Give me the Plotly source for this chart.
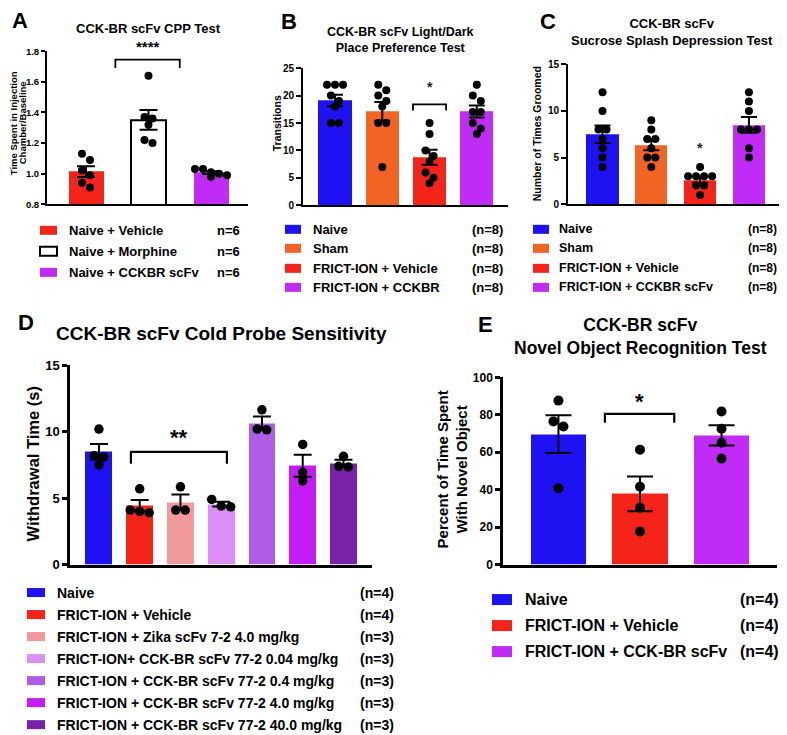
import numpy as np
import plotly.graph_objects as go

# target picture is 787x735; the page keeps an 8px body margin and the photo
# comes out slightly squeezed vertically, so positions are mapped through px/py
W, H = 787, 735
OFF = 8
VS, VO = 0.979, 6
FW, FH = W - OFF, 737
FONT = "Arial, Liberation Sans, sans-serif"

# ---------------- data ----------------
# A  CPP test, ratio injection chamber / baseline
a_labels = ["Naive + Vehicle", "Naive + Morphine", "Naive + CCKBR scFv"]
a_n = ["n=6", "n=6", "n=6"]
a_vehicle = [1.09, 1.13, 0.99, 0.94, 0.91, 1.02]
a_morphine = [1.64, 1.37, 1.36, 1.32, 1.22, 1.20]
a_scfv = [1.03, 1.03, 1.01, 0.99, 0.98, 1.00]

# B  light/dark transitions
b_labels = ["Naive", "Sham", "FRICT-ION + Vehicle", "FRICT-ION + CCKBR"]
b_n = ["(n=8)", "(n=8)", "(n=8)", "(n=8)"]
b_naive = [22, 22, 22, 20, 19, 18, 15, 15]
b_sham = [22, 21, 20, 19, 18, 15, 15, 7]
b_vehicle = [15, 13, 10, 9, 8, 6, 5, 4]
b_cckbr = [22, 20, 19, 17, 17, 15, 14, 13]

# C  sucrose splash, times groomed
c_labels = ["Naive", "Sham", "FRICT-ION + Vehicle", "FRICT-ION + CCKBR scFv"]
c_n = ["(n=8)", "(n=8)", "(n=8)", "(n=8)"]
c_naive = [12, 10, 8, 8, 7, 6, 5, 4]
c_sham = [9, 8, 7, 7, 6, 5, 5, 4]
c_vehicle = [4, 3, 3, 3, 3, 2, 2, 1]
c_cckbr = [12, 11, 10, 8, 8, 8, 6, 5]

# D  cold probe withdrawal time (s)
d_labels = ["Naive", "FRICT-ION + Vehicle", "FRICT-ION + Zika scFv 7-2 4.0 mg/kg",
            "FRICT-ION+ CCK-BR scFv 77-2 0.04 mg/kg", "FRICT-ION + CCK-BR scFv 77-2 0.4 mg/kg",
            "FRICT-ION + CCK-BR scFv 77-2 4.0 mg/kg", "FRICT-ION + CCK-BR scFv 77-2 40.0 mg/kg"]
d_n = ["(n=4)", "(n=4)", "(n=3)", "(n=3)", "(n=3)", "(n=3)", "(n=3)"]
d_naive = [10.2, 8.2, 8.1, 7.5]
d_vehicle = [5.7, 4.1, 4.0, 3.9]
d_zika = [5.85, 4.1, 4.1]
d_004 = [4.9, 4.4, 4.35]
d_04 = [11.65, 10.15, 10.2]
d_4 = [9.05, 6.95, 6.3]
d_40 = [8.15, 7.4, 7.35]

# E  novel object recognition, % time with novel object
e_labels = ["Naive", "FRICT-ION + Vehicle", "FRICT-ION + CCK-BR scFv"]
e_n = ["(n=4)", "(n=4)", "(n=4)"]
e_naive = [87.6, 76.5, 73.8, 40.7]
e_vehicle = [61.4, 41.6, 30.4, 17.7]
e_cckbr = [81.8, 72.6, 65.1, 56.6]

BLUE, ORANGE, RED, PURPLE = "#1e12f2", "#f26424", "#f42418", "#c02cf6"


def px(x):
    return (x - OFF) / FW


def py(y):
    return 1 - ((y - VO) / VS - OFF) / FH


def swarm(vals, tol, step):
    vals = np.asarray(vals, float)
    order = np.argsort(-vals)
    rows = []
    for i in order:
        if rows and abs(vals[rows[-1][0]] - vals[i]) < tol:
            rows[-1].append(i)
        else:
            rows.append([i])
    offs = np.zeros(len(vals))
    for r in rows:
        for k, i in enumerate(r):
            offs[i] = (k - (len(r) - 1) / 2) * step
    return offs


fig = go.Figure()

panels = [
    dict(groups=[a_vehicle, a_morphine, a_scfv], colors=[RED, "white", PURPLE],
         xpx=(47, 248), ypx=(50, 203), xr=(-0.624, 2.592), yr=(0.8, 1.8), dtick=0.2, fmt=".1f",
         bw=0.56, cap=9, dot=8, tick=9.5, tl=4, lw=2),
    dict(groups=[b_naive, b_sham, b_vehicle, b_cckbr], colors=[BLUE, ORANGE, RED, PURPLE],
         xpx=(303, 508), ypx=(67, 204), xr=(-0.677, 3.66), yr=(0, 25), dtick=5, fmt="d",
         bw=0.7, cap=8, dot=8, tick=10, tl=5, lw=2),
    dict(groups=[c_naive, c_sham, c_vehicle, c_cckbr], colors=[BLUE, ORANGE, RED, PURPLE],
         xpx=(568, 787), ypx=(63, 203), xr=(-0.707, 3.78), yr=(0, 15), dtick=5, fmt="d",
         bw=0.66, cap=8, dot=8, tick=10, tl=5, lw=2),
    dict(groups=[d_naive, d_vehicle, d_zika, d_004, d_04, d_4, d_40],
         colors=[BLUE, RED, "#f09a9a", "#dd8ef6", "#ae5be6", "#c41cf5", "#7a22a9"],
         xpx=(70, 372), ypx=(364, 563), xr=(-0.71, 6.70), yr=(0, 15), dtick=5, fmt="d",
         bw=0.66, cap=9, dot=9.5, tick=13, tl=5, lw=2.5),
    dict(groups=[e_naive, e_vehicle, e_cckbr], colors=[BLUE, RED, PURPLE],
         xpx=(503, 777), ypx=(376, 563), xr=(-0.68, 2.68), yr=(0, 100), dtick=20, fmt="d",
         bw=0.675, cap=13, dot=10, tick=12, tl=5, lw=2.5),
]


def scales(p):
    xppu = (p["xpx"][1] - p["xpx"][0]) / (p["xr"][1] - p["xr"][0])
    yppu = (p["ypx"][1] - p["ypx"][0]) / (p["yr"][1] - p["yr"][0])
    return xppu, yppu


def to_paper(p, x, y):
    xppu, yppu = scales(p)
    return (px(p["xpx"][0] + (x - p["xr"][0]) * xppu),
            py(p["ypx"][1] - (y - p["yr"][0]) * yppu))


for i, p in enumerate(panels, start=1):
    xa = "x" if i == 1 else f"x{i}"
    ya = "y" if i == 1 else f"y{i}"
    means = [np.mean(g) for g in p["groups"]]
    sems = [np.std(g, ddof=1) / np.sqrt(len(g)) for g in p["groups"]]
    xs = list(range(len(means)))
    line_cols = ["black" if c == "white" else c for c in p["colors"]]
    line_w = [2 if c == "white" else 0 for c in p["colors"]]
    fig.add_trace(go.Bar(x=xs, y=means, width=p["bw"], xaxis=xa, yaxis=ya,
                         marker=dict(color=p["colors"], line=dict(color=line_cols, width=line_w)),
                         error_y=dict(type="data", array=sems, color="black",
                                      thickness=2, width=p["cap"]),
                         showlegend=False, hoverinfo="skip"))
    xppu, yppu = scales(p)
    for k, g in enumerate(p["groups"]):
        offs = swarm(g, p["dot"] * 0.85 / yppu, p["dot"] * 1.0 / xppu)
        fig.add_trace(go.Scatter(x=k + offs, y=g, mode="markers", xaxis=xa, yaxis=ya,
                                 marker=dict(color="black", size=p["dot"]),
                                 showlegend=False, hoverinfo="skip"))
    sfx = "" if i == 1 else str(i)
    fig.layout["xaxis" + sfx] = dict(domain=[px(p["xpx"][0]), min(1, px(p["xpx"][1]))],
                                     range=p["xr"], anchor=ya, showline=True,
                                     linecolor="black", linewidth=p["lw"], showgrid=False,
                                     zeroline=False, showticklabels=False, ticks="")
    fig.layout["yaxis" + sfx] = dict(domain=[py(p["ypx"][1]), py(p["ypx"][0])], range=p["yr"],
                                     anchor=xa, showline=True, linecolor="black",
                                     linewidth=p["lw"], showgrid=False, zeroline=False,
                                     ticks="outside", ticklen=p["tl"], tickwidth=p["lw"],
                                     tickcolor="black", tick0=p["yr"][0], dtick=p["dtick"],
                                     tickformat=p["fmt"],
                                     tickfont=dict(family=FONT, size=p["tick"], color="black",
                                                   weight="bold"))

# significance marks: (panel, x_left, x_right, y_top, y_tick, label, label_y, size)
brackets = [
    (1, 0.47, 1.5, 1.745, 1.69, "****", 1.83, 15),
    (2, 1.65, 2.35, 18.4, 17.3, "*", 21.5, 14),
    (3, None, 2, None, None, "*", 6.0, 14),
    (4, 0.785, 3.14, 8.48, 7.6, "**", 9.55, 22),
    (5, 0.57, 1.42, 80.5, 75.8, "*", 87.0, 22),
]
for pi, x0, x1, yt, yb, lab, ly, fs in brackets:
    p = panels[pi - 1]
    xa = "x" if pi == 1 else f"x{pi}"
    ya = "y" if pi == 1 else f"y{pi}"
    if x0 is None:
        lx = x1
    else:
        fig.add_shape(type="path", xref=xa, yref=ya,
                      path=f"M {x0} {yb} L {x0} {yt} L {x1} {yt} L {x1} {yb}",
                      line=dict(color="black", width=1.8 if pi < 4 else 2.2))
        lx = (x0 + x1) / 2
    ax, ay = to_paper(p, lx, ly)
    fig.add_annotation(x=ax, y=ay, xref="paper", yref="paper", text=lab, showarrow=False,
                       xanchor="center", yanchor="middle",
                       font=dict(family=FONT, size=fs, color="#222" if pi in (2, 3) else "black",
                                 weight="bold"))


def text(x, y, s, size, anchor="center", angle=0):
    fig.add_annotation(x=px(x), y=py(y), xref="paper", yref="paper", text=s, showarrow=False,
                       xanchor=anchor, yanchor="middle", textangle=angle,
                       font=dict(family=FONT, size=size, color="black", weight="bold"))


# panel letters
for letter, x, y in [("A", 20, 19), ("B", 289, 20), ("C", 548, 20), ("D", 26, 321), ("E", 485, 323)]:
    text(x, y, letter, 22)

# titles
text(148, 27, "CCK-BR scFv CPP Test", 13)
text(400, 39, "CCK-BR scFv Light/Dark<br>Place Preference Test", 12.5)
text(672, 31, "CCK-BR scFv<br>Sucrose Splash Depression Test", 13)
text(221, 332, "CCK-BR scFv Cold Probe Sensitivity", 19)
text(640, 335, "CCK-BR scFv<br>Novel Object Recognition Test", 17.5)

# y-axis titles
text(13, 122, "Time Spent in Injection", 9.5, angle=-90)
text(22, 122, "Chamber/Baseline", 9.5, angle=-90)
text(277, 122, "Transitions", 10.5, angle=-90)
text(537, 133, "Number of Times Groomed", 10.5, angle=-90)
text(33, 463, "Withdrawal Time (s)", 16.5, angle=-90)
text(452, 468, "Percent of Time Spent<br>With Novel Object", 15, angle=-90)

# custom legends: labels, counts, colours, swatch x, text x, count x, rows, font, count font, swatch h
legends = [
    (a_labels, a_n, [RED, "white", PURPLE], (40, 57), 67, 215, [229, 250, 271], 13, 13, 9),
    (b_labels, b_n, [BLUE, ORANGE, RED, PURPLE], (285, 301), 311, 470,
     [228, 247, 267, 286], 13, 13, 9),
    (c_labels, c_n, [BLUE, ORANGE, RED, PURPLE], (533, 549), 557, 746,
     [228, 247, 267, 286], 12.5, 12, 9),
    (d_labels, d_n, panels[3]["colors"], (27, 45), 55, 358,
     [591, 613, 635, 657, 679, 701, 723], 14, 14, 9),
    (e_labels, e_n, [BLUE, RED, PURPLE], (492, 512), 523, 738, [598, 624, 650], 16, 16, 11),
]
for labels, ns, cols, (s0, s1), tx, nx, rows, fs, nfs, sh in legends:
    for lab, n, c, ry in zip(labels, ns, cols, rows):
        fig.add_shape(type="rect", xref="paper", yref="paper",
                      x0=px(s0), x1=px(s1), y0=py(ry + sh / 2), y1=py(ry - sh / 2),
                      fillcolor=c, line=dict(color="black" if c == "white" else c,
                                             width=2 if c == "white" else 0))
        text(tx, ry, lab, fs, anchor="left")
        text(nx, ry, n, nfs, anchor="left")

fig.update_layout(width=FW, height=FH, margin=dict(l=0, r=0, t=0, b=0),
                  paper_bgcolor="white", plot_bgcolor="white", bargap=0,
                  font=dict(family=FONT, color="black"))

fig.write_html("out.html")
